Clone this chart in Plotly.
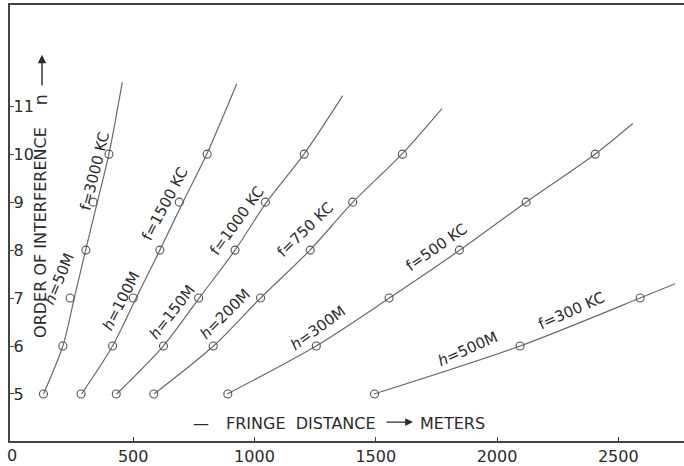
import plotly.graph_objects as go

# ---------------- data ----------------
orders = [5, 6, 7, 8, 9, 10]

# measured fringe distances (circles), metres
pts_h50 = [130, 210, 240, 305, 335, 400]
pts_h100 = [285, 415, 500, 610, 690, 805]
pts_h150 = [430, 625, 770, 920, 1045, 1205]
pts_h200 = [585, 830, 1025, 1230, 1405, 1610]
pts_h300 = [890, 1255, 1555, 1845, 2120, 2405]
pts_h500 = [1495, 2095, 2590]
orders_h500 = [5, 6, 7]

# drawn (theoretical) curves
curve_h50_x = [130, 210, 257, 304, 352, 400, 455]
curve_h50_n = [5, 6, 7, 8, 9, 10, 11.5]
curve_h100_x = [287, 415, 512, 610, 705, 803, 927]
curve_h100_n = [5, 6, 7, 8, 9, 10, 11.47]
curve_h150_x = [432, 624, 772, 920, 1050, 1204, 1364]
curve_h150_n = [5, 6, 7, 8, 9, 10, 11.22]
curve_h200_x = [586, 831, 1025, 1229, 1406, 1608, 1773]
curve_h200_n = [5, 6, 7, 8, 9, 10, 10.95]
curve_h300_x = [888, 1254, 1556, 1847, 2120, 2404, 2560]
curve_h300_n = [5, 6, 7, 8, 9, 10, 10.64]
curve_h500_x = [1493, 2095, 2590, 2734]
curve_h500_n = [5, 6, 7, 7.3]

x_ticks = [0, 500, 1000, 1500, 2000, 2500]
y_ticks = [5, 6, 7, 8, 9, 10, 11]

labels_h = ["<i>h</i>=50M", "<i>h</i>=100M", "<i>h</i>=150M",
            "<i>h</i>=200M", "<i>h</i>=300M", "<i>h</i>=500M"]
labels_f = ["f=3000 KC", "f=1500 KC", "f=1000 KC",
            "f=750 KC", "f=500 KC", "f=300 KC"]

# ---------------- figure ----------------
LINE_C = "#6b6b6b"
MARK_C = "#555555"
TEXT_C = "#2b2b2b"
FONT = "DejaVu Sans"

fig = go.Figure()

curves = [
    (curve_h50_x, curve_h50_n, pts_h50, orders),
    (curve_h100_x, curve_h100_n, pts_h100, orders),
    (curve_h150_x, curve_h150_n, pts_h150, orders),
    (curve_h200_x, curve_h200_n, pts_h200, orders),
    (curve_h300_x, curve_h300_n, pts_h300, orders),
    (curve_h500_x, curve_h500_n, pts_h500, orders_h500),
]
for cx, cn, px_, pn in curves:
    fig.add_trace(go.Scatter(x=cx, y=cn, mode="lines",
                             line=dict(color=LINE_C, width=1.2, shape="spline", smoothing=0.8),
                             hoverinfo="skip", showlegend=False))
    fig.add_trace(go.Scatter(x=px_, y=pn, mode="markers",
                             marker=dict(symbol="circle-open", size=8, color=MARK_C,
                                         line=dict(color=MARK_C, width=1.1)),
                             showlegend=False))

# plot-area geometry in pixels (for label placement)
L, T, R, B = 10, 5, 684, 443
W, H = R - L, B - T


def P(px, py):
    return (px - L) / W, (B - py) / H


annots = []


def txt(text, px, py, angle=0, size=15):
    x, y = P(px, py)
    annots.append(dict(text=text, x=x, y=y, xref="paper", yref="paper",
                       showarrow=False, textangle=angle,
                       font=dict(family=FONT, size=size, color=TEXT_C),
                       xanchor="center", yanchor="middle"))


# curve labels: position (px) and angle
h_pos = [(59, 280, -67), (121, 302, -63), (172, 313, -52),
         (225, 315, -45), (318, 329, -36), (468, 351, -24)]
f_pos = [(95, 172, -76), (165, 205, -62), (237, 222, -54),
         (305, 231, -44), (437, 248, -35), (571, 312, -24)]
for t, (a, b, ang) in zip(labels_h, h_pos):
    txt(t, a, b, ang, 15)
for t, (a, b, ang) in zip(labels_f, f_pos):
    txt(t, a, b, ang, 15)

# y-axis title
txt("ORDER OF INTERFERENCE", 41, 234, -90, 16)
txt("n", 41, 101, -90, 18)
hx, hy = P(42, 55)
annots.append(dict(x=hx, y=hy, xref="paper", yref="paper", ax=0, ay=32,
                   text="", showarrow=True, arrowhead=2, arrowsize=1.2,
                   arrowwidth=1.4, arrowcolor=TEXT_C))

# x-axis title inside plot
txt("—", 201, 425, 0, 16)
txt("FRINGE  DISTANCE", 301, 425, 0, 16)
tx, ty = P(413, 424)
annots.append(dict(x=tx, y=ty, xref="paper", yref="paper", ax=-28, ay=0,
                   text="", showarrow=True, arrowhead=2, arrowsize=1.2,
                   arrowwidth=1.3, arrowcolor=TEXT_C))
txt("METERS", 452, 425, 0, 16)

# the "0" tick label at the corner (plotly hides it next to the y axis)
annots.append(dict(text=str(x_ticks[0]), x=x_ticks[0], xref="x", y=0, yref="paper",
                   yanchor="top", xanchor="center", yshift=-3, showarrow=False,
                   font=dict(family=FONT, size=16, color=TEXT_C)))

fig.update_layout(
    width=684, height=466,
    margin=dict(l=L, r=684 - R, t=T, b=466 - B),
    paper_bgcolor="white", plot_bgcolor="white",
    annotations=annots,
    showlegend=False,
    xaxis=dict(range=[-8, 2771], tickvals=x_ticks,
               ticktext=[""] + [str(v) for v in x_ticks[1:]],
               showgrid=False, zeroline=False, showline=True, linecolor="#444",
               linewidth=1.5, mirror=True, ticks="inside", ticklen=4, tickcolor="#444",
               tickfont=dict(family=FONT, size=16, color=TEXT_C)),
    yaxis=dict(range=[4.02, 13.11], tickvals=y_ticks, ticktext=[str(v) for v in y_ticks],
               showgrid=False, zeroline=False, showline=True, linecolor="#444",
               linewidth=1.5, ticks="inside", ticklen=4, tickcolor="#444",
               ticklabelposition="inside",
               tickfont=dict(family=FONT, size=16, color=TEXT_C)),
)

fig.write_html("out.html", config={"displayModeBar": False},
               post_script="document.body.style.margin='0';document.body.style.padding='0';")
